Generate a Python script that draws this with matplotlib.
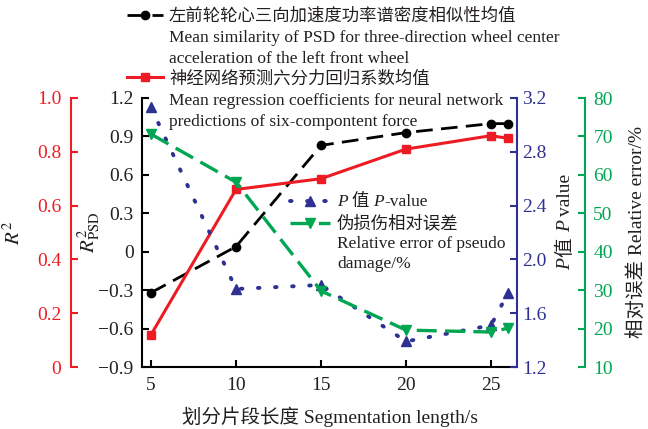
import matplotlib

matplotlib.use("Agg")
import matplotlib.pyplot as plt  # noqa: E402
from matplotlib.lines import Line2D  # noqa: E402
from matplotlib.ticker import FixedLocator, FuncFormatter  # noqa: E402

plt.rcParams["font.family"] = ["Liberation Serif", "Noto Sans CJK SC"]
plt.rcParams["mathtext.fontset"] = "stix"
plt.rcParams["axes.unicode_minus"] = True

W, H = 648, 429

# Segment length (s) and the four averaged indicators
seg_len = [5, 10, 15, 20, 25, 26]
r2_psd = [-0.32, 0.04, 0.83, 0.93, 1.00, 1.00]
r2_nn = [0.12, 0.66, 0.70, 0.81, 0.86, 0.85]
p_value = [3.13, 1.78, 1.81, 1.39, 1.51, 1.75]
rel_err = [70.6, 58.1, 29.8, 19.6, 19.1, 20.1]

x_ticks = [5, 10, 15, 20, 25]
psd_ticks = [-0.9, -0.6, -0.3, 0, 0.3, 0.6, 0.9, 1.2]
r2_ticks = [0, 0.2, 0.4, 0.6, 0.8, 1.0]
p_ticks = [1.2, 1.6, 2.0, 2.4, 2.8, 3.2]
err_ticks = [10, 20, 30, 40, 50, 60, 70, 80]

INK = "#231F20"
RED = "#ED1C24"
BLUE = "#2E3192"
GREEN = "#00A651"
TICK_SIZE = 14
LEG_SIZE = 12.5


def fx(px):
    return px / W


def fy(py):
    return 1 - py / H


def fmt_dec(v, _):
    if abs(v) < 1e-9:
        return "0"
    return f"{v:.1f}".replace("-", "\u2212")


fig = plt.figure(figsize=(W / 100, H / 100), dpi=100)
ax = fig.add_axes([fx(142), fy(367), fx(517) - fx(142), fy(98) - fy(367)])
ax_r = ax.twinx()
ax_p = ax.twinx()
ax_g = ax.twinx()


def style_y(a, side, color, label_color, pos=None, pad=6):
    for sp in a.spines.values():
        sp.set_visible(False)
    sp = a.spines[side]
    sp.set_visible(True)
    sp.set_color(color)
    sp.set_linewidth(1.5)
    if pos is not None:
        sp.set_position(("axes", pos))
    a.yaxis.set_ticks_position(side)
    a.yaxis.set_label_position(side)
    a.tick_params(axis="y", direction="in", length=5, width=1.5, color=color,
                  labelcolor=label_color, labelsize=TICK_SIZE, pad=pad)


# main axes: R2_PSD on the left, segment length along the bottom
style_y(ax, "left", "black", INK)
ax.spines["bottom"].set_visible(True)
ax.spines["bottom"].set_linewidth(1.5)
ax.tick_params(axis="x", direction="in", length=5, width=1.5,
               labelsize=TICK_SIZE, labelcolor=INK, pad=7)
style_y(ax_r, "left", RED, RED, pos=(71 - 142) / 375, pad=7)
style_y(ax_p, "right", BLUE, BLUE, pad=4)
style_y(ax_g, "right", GREEN, GREEN, pos=(585 - 142) / 375, pad=6)

ax.set_xlim(4.47, 26.53)
ax.xaxis.set_major_locator(FixedLocator(x_ticks))
ax.set_ylim(-0.9, 1.2)
ax.yaxis.set_major_locator(FixedLocator(psd_ticks))
ax.yaxis.set_major_formatter(FuncFormatter(fmt_dec))
ax_r.set_ylim(0, 1.0)
ax_r.yaxis.set_major_locator(FixedLocator(r2_ticks))
ax_r.yaxis.set_major_formatter(FuncFormatter(fmt_dec))
ax_p.set_ylim(1.2, 3.2)
ax_p.yaxis.set_major_locator(FixedLocator(p_ticks))
ax_p.yaxis.set_major_formatter(FuncFormatter(fmt_dec))
ax_g.set_ylim(10, 80)
ax_g.yaxis.set_major_locator(FixedLocator(err_ticks))

black_kw = dict(color="black", lw=2, dashes=(6, 3), marker="o", ms=6)
red_kw = dict(color=RED, lw=2.2, marker="s", ms=5.5)
blue_kw = dict(color=BLUE, lw=2.8, dashes=(0.4, 4.0), dash_capstyle="round",
               marker="^", ms=7)
green_kw = dict(color=GREEN, lw=2.4, dashes=(6, 2.5), marker="v", ms=7)

ax.plot(seg_len, r2_psd, clip_on=False, **black_kw)
ax_r.plot(seg_len, r2_nn, clip_on=False, **red_kw)
ax_p.plot(seg_len, p_value, clip_on=False, **blue_kw)
ax_g.plot(seg_len, rel_err, clip_on=False, **green_kw)

# axis titles
ax.set_xlabel("划分片段长度 Segmentation length/s", fontsize=14, color=INK)
ax.xaxis.set_label_coords(0.5, -0.145)
ax_r.set_ylabel("$R^2$", fontsize=15, color=INK)
ax_r.yaxis.set_label_coords((25 - 142) / 375, 0.5)
ax.set_ylabel(r"$R^2_{\mathrm{PSD}}$", fontsize=15, color=INK)
ax.yaxis.set_label_coords((102 - 142) / 375, 0.5)
ax_g.set_ylabel("相对误差 Relative error/%", fontsize=14, color=INK)
ax_g.yaxis.set_label_coords((627 - 142) / 375, 0.5)


def rich_text(x, y, parts, size, rotation=0):
    """Chain text pieces (text, italic, gap in points) into one run."""
    s0, it0, _ = parts[0]
    prev = fig.text(x, y, s0, fontsize=size, color=INK,
                    style="italic" if it0 else "normal", rotation=rotation,
                    rotation_mode="anchor", ha="left", va="baseline")
    for s, it, gap in parts[1:]:
        if rotation:
            kw = dict(xy=(1, 1), xytext=(0, gap), ha="right", va="bottom")
        else:
            kw = dict(xy=(1, 0), xytext=(gap, 0), ha="left", va="bottom")
        prev = ax_g.annotate(s, xycoords=prev, textcoords="offset points",
                             fontsize=size, color=INK, rotation=rotation,
                             style="italic" if it else "normal",
                             annotation_clip=False, **kw)


rich_text(fx(570), fy(270),
          [("P", True, 0), ("值", False, 1), ("P", True, 3.5), ("value", False, 3.5)],
          14, rotation=90)


def legend_key(x0, x1, y, **kw):
    fig.add_artist(Line2D([fx(x0), fx((x0 + x1) / 2), fx(x1)], [fy(y)] * 3,
                          transform=fig.transFigure, markevery=[1], **kw))


def legend_lines(x, y0, lines, step=20.8):
    for i, s in enumerate(lines):
        fig.text(fx(x), fy(y0 + i * step), s, fontsize=LEG_SIZE, color=INK,
                 ha="left", va="baseline")


# upper legend
legend_key(127, 163, 15, **black_kw)
legend_lines(169, 21, ["左前轮轮心三向加速度功率谱密度相似性均值",
                       "Mean similarity of PSD for three-direction wheel center",
                       "acceleration of the left front wheel"])
legend_key(127, 163, 77, **red_kw)
legend_lines(169, 84, ["神经网络预测六分力回归系数均值",
                       "Mean regression coefficients for neural network",
                       "predictions of six-compontent force"])

# lower legend
legend_key(290, 330, 201, **blue_kw)
rich_text(fx(337), fy(206),
          [("P", True, 0), ("值", False, 3), ("P", True, 3), ("-value", False, 0)],
          LEG_SIZE)
legend_key(290, 330, 223, **green_kw)
legend_lines(337, 228, ["伪损伤相对误差", "Relative error of pseudo", "damage/%"],
             step=20)

fig.savefig("out.png", dpi=100)
